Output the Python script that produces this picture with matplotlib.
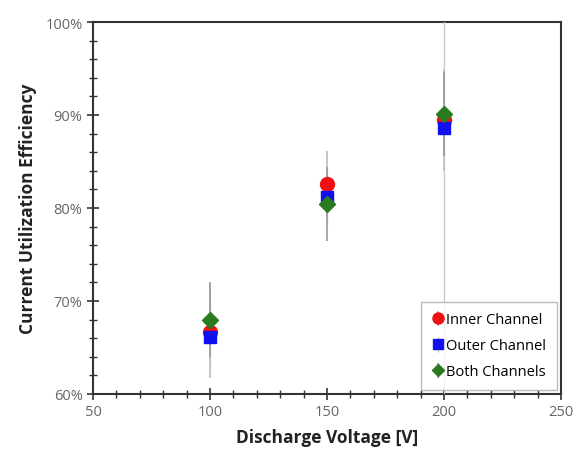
import matplotlib
matplotlib.use("Agg")
import matplotlib.pyplot as plt
from matplotlib.ticker import MultipleLocator, PercentFormatter

# Discharge voltage [V]
voltage = [100, 150, 200]

# Current utilization efficiency [%]
inner = [66.7, 82.6, 89.5]
outer = [66.1, 81.2, 88.6]
both = [68.0, 80.4, 90.1]

# error bars [%]
inner_err = [5.0, 3.5, 5.5]
outer_err = [3.5, 3.0, 30.0]
both_err = [4.0, 4.0, 4.5]

plt.rcParams["font.family"] = ["Open Sans", "DejaVu Sans"]

fig = plt.figure(figsize=(5.76, 4.56), dpi=100)
ax = fig.add_axes([0.1615, 0.134, 0.8125, 0.8155])

series = [
    ("Inner Channel", inner, inner_err, "o", "#ee1111", 10, "#cdb6d2", 1.3),
    ("Outer Channel", outer, outer_err, "s", "#1010ee", 9, "#c4c4cc", 0.9),
    ("Both Channels", both, both_err, "D", "#2a7a20", 8, "#9a9a9a", 1.2),
]

for label, vals, err, mk, col, ms, ecol, elw in series:
    ax.errorbar(voltage, vals, yerr=err, fmt=mk, color=col, ms=ms,
                mec=col, ecolor=ecol, elinewidth=elw, capsize=0,
                label=label, zorder=3)

ax.set_xlim(50, 250)
ax.set_ylim(60, 100)
ax.xaxis.set_major_locator(MultipleLocator(50))
ax.xaxis.set_minor_locator(MultipleLocator(10))
ax.yaxis.set_major_locator(MultipleLocator(10))
ax.yaxis.set_minor_locator(MultipleLocator(2))
ax.yaxis.set_major_formatter(PercentFormatter(decimals=0))

ax.tick_params(which="major", direction="inout", length=8, width=1.2,
               color="#333333", labelsize=10.5, labelcolor="#666666")
ax.tick_params(which="minor", direction="inout", length=6, width=1.0,
               color="#333333")

for s in ax.spines.values():
    s.set_color("#333333")
    s.set_linewidth(1.5)

ax.set_xlabel("Discharge Voltage [V]", fontsize=12.5, fontweight="bold",
              color="#222222", labelpad=6)
ax.set_ylabel("Current Utilization Efficiency", fontsize=12.5,
              fontweight="bold", color="#222222", labelpad=6)

ax.legend(loc="lower right", fontsize=10.5, frameon=True, fancybox=False,
          edgecolor="#aaaaaa", handletextpad=0.05, handlelength=1.0,
          labelspacing=0.75, borderpad=0.7, markerscale=0.8,
          bbox_to_anchor=(1.0, 0.0), borderaxespad=0.3)

fig.savefig("out.png", dpi=100)
